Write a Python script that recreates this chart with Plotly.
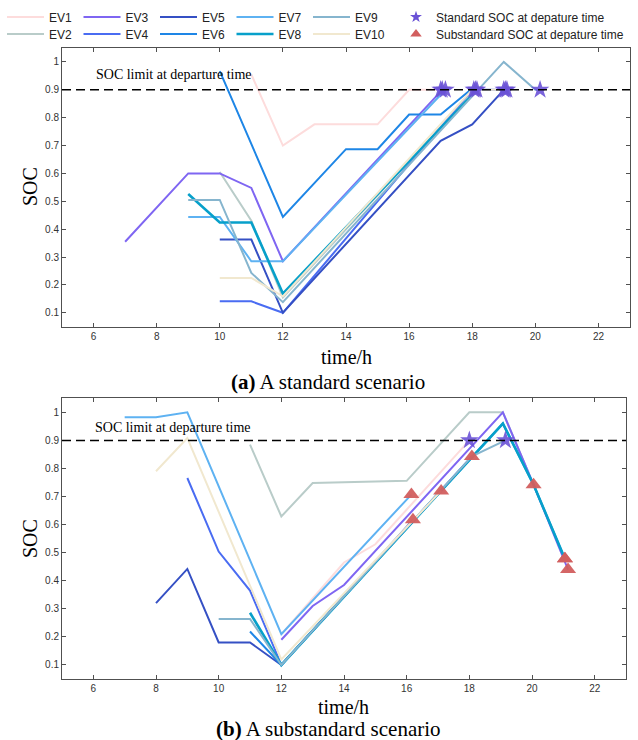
import plotly.graph_objects as go

# ---------------- data ----------------
ev_names = ["EV1", "EV2", "EV3", "EV4", "EV5", "EV6", "EV7", "EV8", "EV9", "EV10"]
ev_colors = ["#FDDCDC", "#B9CCC9", "#7F66F2", "#4A6CF2", "#3550C4",
             "#1E86E6", "#5EB2F2", "#07A0CA", "#86B5CE", "#F1E8CF"]

# (a) standard scenario: time (h) and SOC for each EV
a_time = {
    "EV1": [11, 12, 13, 15, 16, 17.0],
    "EV2": [10, 11, 12, 18.1],
    "EV3": [7, 9, 10, 11, 12, 17.05],
    "EV4": [10, 11, 12, 18.0, 19.1],
    "EV5": [10, 11, 12, 17, 18, 19.0],
    "EV6": [10, 12, 14, 15, 16, 17, 17.95, 18.05],
    "EV7": [9, 10, 11, 12, 17.15],
    "EV8": [9, 10, 11, 12, 18.15],
    "EV9": [9, 10, 11, 12, 19, 20, 20.15],
    "EV10": [10, 11, 12, 18.0, 19.05],
}
a_soc = {
    "EV1": [0.955, 0.70, 0.776, 0.776, 0.90, 0.90],
    "EV2": [0.605, 0.43, 0.155, 0.90],
    "EV3": [0.355, 0.60, 0.60, 0.548, 0.285, 0.90],
    "EV4": [0.141, 0.141, 0.10, 0.90, 0.90],
    "EV5": [0.363, 0.363, 0.10, 0.717, 0.776, 0.90],
    "EV6": [0.967, 0.444, 0.687, 0.687, 0.811, 0.811, 0.90, 0.90],
    "EV7": [0.444, 0.444, 0.285, 0.285, 0.90],
    "EV8": [0.526, 0.424, 0.424, 0.169, 0.90],
    "EV9": [0.505, 0.505, 0.243, 0.138, 1.00, 0.90, 0.90],
    "EV10": [0.225, 0.225, 0.159, 0.90, 0.90],
}

# (b) substandard scenario
b_time = {
    "EV1": [12, 14, 15, 18.0],
    "EV2": [11, 12, 13, 16, 18, 19.07, 20.05],
    "EV3": [12, 13, 14, 19.07, 20.05, 21.15],
    "EV4": [9, 10, 11, 12, 18.08],
    "EV5": [8, 9, 10, 11, 12, 16.2],
    "EV6": [11, 12, 19.07, 20.05, 21.05],
    "EV7": [7, 8, 9, 12, 16.15],
    "EV8": [11, 12, 19.07, 20.05, 21.05],
    "EV9": [10, 11, 12, 18.08, 19.15],
    "EV10": [8, 9, 12, 17.1],
}
b_soc = {
    "EV1": [0.21, 0.465, 0.53, 0.90],
    "EV2": [0.885, 0.629, 0.748, 0.756, 1.00, 1.00, 0.742],
    "EV3": [0.19, 0.31, 0.385, 1.00, 0.742, 0.44],
    "EV4": [0.766, 0.504, 0.365, 0.10, 0.843],
    "EV5": [0.32, 0.442, 0.18, 0.18, 0.10, 0.617],
    "EV6": [0.219, 0.10, 0.96, 0.742, 0.478],
    "EV7": [0.982, 0.982, 1.00, 0.21, 0.707],
    "EV8": [0.286, 0.10, 0.96, 0.742, 0.478],
    "EV9": [0.264, 0.264, 0.10, 0.843, 0.90],
    "EV10": [0.79, 0.908, 0.12, 0.72],
}

SOC_LIMIT = 0.9
x_ticks = [6, 8, 10, 12, 14, 16, 18, 20, 22]
y_ticks = [0.1, 0.2, 0.3, 0.4, 0.5, 0.6, 0.7, 0.8, 0.9, 1.0]
y_ticklabels = ["0.1", "0.2", "0.3", "0.4", "0.5", "0.6", "0.7", "0.8", "0.9", "1"]

STAR_COLOR = "#6A52D6"
TRI_COLOR = "#D25E5E"
SERIF = "Liberation Serif, Times New Roman, serif"
SANS = "Liberation Sans, Arial, sans-serif"

fig = go.Figure()

# ---------------- lines ----------------
for i, name in enumerate(ev_names):
    leg = "legend" if i % 2 == 0 else "legend2"
    w = 2.6 if name == "EV8" else 2.0
    fig.add_trace(go.Scatter(
        x=a_time[name], y=a_soc[name], mode="lines", name=name,
        line=dict(color=ev_colors[i], width=w), legend=leg,
        xaxis="x", yaxis="y", showlegend=True))
    fig.add_trace(go.Scatter(
        x=b_time[name], y=b_soc[name], mode="lines", name=name,
        line=dict(color=ev_colors[i], width=w), legend=leg,
        xaxis="x2", yaxis="y2", showlegend=False))

# ---------------- departure markers ----------------
std_ax, std_ay, std_bx, std_by, sub_bx, sub_by = [], [], [], [], [], []
for name in ev_names:
    std_ax.append(a_time[name][-1]); std_ay.append(a_soc[name][-1])
    if b_soc[name][-1] >= SOC_LIMIT - 1e-9:
        std_bx.append(b_time[name][-1]); std_by.append(b_soc[name][-1])
    else:
        sub_bx.append(b_time[name][-1]); sub_by.append(b_soc[name][-1])

star_marker = dict(symbol="star", size=14, color=STAR_COLOR, opacity=0.9,
                   line=dict(width=0))
tri_marker = dict(symbol="triangle-up", size=14, color=TRI_COLOR, opacity=0.95,
                  line=dict(width=0))
fig.add_trace(go.Scatter(x=std_ax, y=std_ay, mode="markers", marker=star_marker,
                         xaxis="x", yaxis="y", showlegend=False))
fig.add_trace(go.Scatter(x=std_bx, y=std_by, mode="markers", marker=star_marker,
                         xaxis="x2", yaxis="y2", showlegend=False))
fig.add_trace(go.Scatter(x=sub_bx, y=sub_by, mode="markers", marker=tri_marker,
                         xaxis="x2", yaxis="y2", showlegend=False))
# legend entries for the markers
fig.add_trace(go.Scatter(x=[None], y=[None], mode="markers",
                         name="Standard SOC at depature time",
                         marker=dict(symbol="star", size=9, color=STAR_COLOR),
                         legend="legend3", xaxis="x", yaxis="y"))
fig.add_trace(go.Scatter(x=[None], y=[None], mode="markers",
                         name="Substandard SOC at depature time",
                         marker=dict(symbol="triangle-up", size=10, color=TRI_COLOR),
                         legend="legend4", xaxis="x", yaxis="y"))

# ---------------- axes ----------------
axis_common = dict(showline=True, linecolor="#505050", linewidth=1, mirror="ticks",
                   ticks="inside", ticklen=4, tickcolor="#505050", showgrid=False,
                   zeroline=False, tickfont=dict(family=SANS, size=10, color="#333333"))
fig.update_layout(
    xaxis=dict(domain=[0, 1], range=[5, 23], tickvals=x_ticks, anchor="y", **axis_common),
    yaxis=dict(domain=[0.5583, 1], range=[0.05, 1.05], tickvals=y_ticks,
               ticktext=y_ticklabels, anchor="x", **axis_common),
    xaxis2=dict(domain=[0, 0.993], range=[5, 23], tickvals=x_ticks, anchor="y2", **axis_common),
    yaxis2=dict(domain=[0, 0.4449], range=[0.05, 1.05], tickvals=y_ticks,
                ticktext=y_ticklabels, anchor="x2", **axis_common),
)

for yr, xr in (("y", "x"), ("y2", "x2")):
    fig.add_shape(type="line", xref=xr + " domain", x0=0, x1=1, yref=yr,
                  y0=SOC_LIMIT, y1=SOC_LIMIT,
                  line=dict(color="black", width=1.5, dash="9px,5px"))

ann = []
ann.append(dict(text="SOC limit at departure time", x=6, y=0.954, xref="x", yref="y",
                xanchor="left", yanchor="middle", showarrow=False,
                font=dict(family=SERIF, size=14, color="black")))
ann.append(dict(text="SOC limit at departure time", x=6, y=0.945, xref="x2", yref="y2",
                xanchor="left", yanchor="middle", showarrow=False,
                font=dict(family=SERIF, size=14, color="black")))
for yc in (0.78, 0.222):
    ann.append(dict(text="SOC", x=-0.056, y=yc, xref="paper", yref="paper",
                    textangle=-90, showarrow=False, xanchor="center", yanchor="middle",
                    font=dict(family=SERIF, size=20, color="black")))
ann.append(dict(text="time/h", x=0.5, y=0.510, xref="paper", yref="paper",
                showarrow=False, xanchor="center", yanchor="middle",
                font=dict(family=SERIF, size=20, color="black")))
ann.append(dict(text="time/h", x=0.496, y=-0.0444, xref="paper", yref="paper",
                showarrow=False, xanchor="center", yanchor="middle",
                font=dict(family=SERIF, size=20, color="black")))
ann.append(dict(text="<b>(a)</b> A standard scenario", x=(328 - 62) / 568, y=0.4707,
                xref="paper", yref="paper", showarrow=False, xanchor="center",
                yanchor="middle", font=dict(family=SERIF, size=21, color="black")))
ann.append(dict(text="<b>(b)</b> A substandard scenario", x=(328 - 62) / 568, y=-0.0792,
                xref="paper", yref="paper", showarrow=False, xanchor="center",
                yanchor="middle", font=dict(family=SERIF, size=21, color="black")))

leg_common = dict(orientation="h", xref="paper", yref="paper", xanchor="left",
                  yanchor="middle", bgcolor="rgba(0,0,0,0)", borderwidth=0,
                  font=dict(family=SANS, size=12, color="#222222"),
                  traceorder="normal", itemclick=False, itemdoubleclick=False)
ev_leg = dict(itemwidth=37, entrywidth=24.5, entrywidthmode="pixels", **leg_common)
row1_y = (679 - 17) / 631
row2_y = (679 - 34) / 631
fig.update_layout(
    width=638, height=740,
    margin=dict(l=62, r=8, t=48, b=61, autoexpand=False),
    paper_bgcolor="white", plot_bgcolor="white",
    annotations=ann,
    legend=dict(x=(2 - 62) / 568, y=row1_y, **ev_leg),
    legend2=dict(x=(2 - 62) / 568, y=row2_y, **ev_leg),
    legend3=dict(x=(396 - 62) / 568, y=row1_y, **leg_common),
    legend4=dict(x=(396 - 62) / 568, y=row2_y, **leg_common),
)

fig.write_html("out.html", config={"displayModeBar": False},
               post_script="document.body.style.margin='0';document.body.style.padding='0';")
